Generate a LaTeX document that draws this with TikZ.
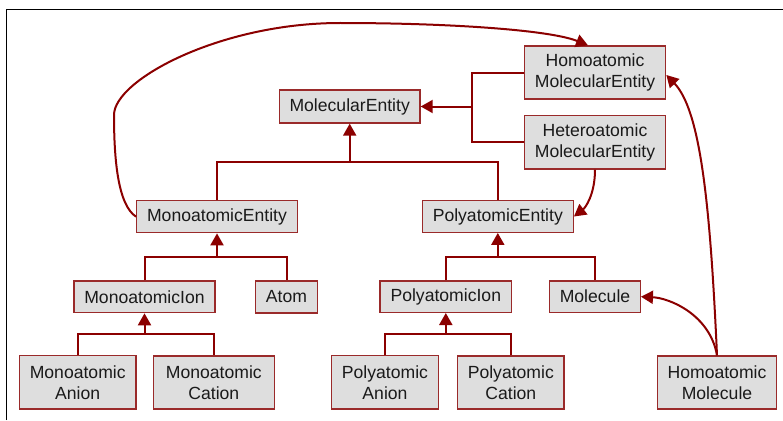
\documentclass[tikz,border=0pt]{standalone}
\usepackage{fontspec}
\setmainfont{Liberation Sans}
\usetikzlibrary{arrows.meta}
\definecolor{edgec}{HTML}{8B0000}
\definecolor{boxc}{HTML}{9A2A2A}
\definecolor{fillc}{HTML}{DEDEDE}
\definecolor{textc}{HTML}{1A1A1A}
\begin{document}
\begin{tikzpicture}[x=1pt,y=-1pt,
  box/.style={draw=boxc, line width=1.3pt, fill=fillc, text=textc, inner sep=0pt, align=center, font=\fontsize{17.6}{21}\selectfont},
  edge/.style={draw=edgec, line width=2pt},
  arr/.style={-{Triangle[width=13pt,length=12pt]}}]
\useasboundingbox (0,0) rectangle (783,420);
\draw[line width=1.3pt] (6.5,420) -- (6.5,9.3) -- (783,9.3);

\node[box, minimum width=140.7pt, minimum height=33pt] (ME) at (349.7,106.5) {MolecularEntity};
\node[box, minimum width=141.4pt, minimum height=53pt] (HomoME) at (595,72.5) {Homoatomic\\MolecularEntity};
\node[box, minimum width=141.4pt, minimum height=53.3pt] (HeteroME) at (595,142.3) {Heteroatomic\\MolecularEntity};
\node[box, minimum width=151pt, minimum height=31.6pt] (PolyEnt) at (497.8,216.5) {PolyatomicEntity};
\node[box, minimum width=160.6pt, minimum height=32pt] (MonoEnt) at (217,216.7) {MonoatomicEntity};
\node[box, minimum width=141pt, minimum height=31.7pt] (MonoIon) at (144.5,296.8) {MonoatomicIon};
\node[box, minimum width=61.6pt, minimum height=32pt] (Atom) at (286.5,297) {Atom};
\node[box, minimum width=116.7pt, minimum height=53.3pt] (MonoAnion) at (77.7,382.3) {Monoatomic\\Anion};
\node[box, minimum width=121pt, minimum height=53pt] (MonoCation) at (213.8,382.5) {Monoatomic\\Cation};
\node[box, minimum width=131.7pt, minimum height=31.3pt] (PolyIon) at (445.8,296.7) {PolyatomicIon};
\node[box, minimum width=90.6pt, minimum height=31.3pt] (Molecule) at (595,296.7) {Molecule};
\node[box, minimum width=106.6pt, minimum height=53.3pt] (PolyAnion) at (385,382.3) {Polyatomic\\Anion};
\node[box, minimum width=106.3pt, minimum height=53pt] (PolyCation) at (510.8,382.5) {Polyatomic\\Cation};
\node[box, minimum width=118.6pt, minimum height=53pt] (HomoMol) at (717,382.5) {Homoatomic\\Molecule};

\coordinate (j1) at (349.7,162);
\coordinate (j2) at (472.3,106.5);
\coordinate (j3) at (217,257.3);
\coordinate (j4) at (144.5,334);
\coordinate (j5) at (497.8,256.7);
\coordinate (j6) at (445.8,334.3);

% tree connectors
\draw[edge] (MonoEnt.north) |- (j1) -| (PolyEnt.north);
\draw[edge,arr] (j1) -- (ME.south);
\draw[edge] (HomoME.west) -| (j2) |- (HeteroME.west);
\draw[edge,arr] (j2) -- (ME.east);
\draw[edge] (MonoIon.north) |- (j3) -| (Atom.north);
\draw[edge,arr] (j3) -- (MonoEnt.south);
\draw[edge] (MonoAnion.north) |- (j4) -| (MonoCation.north);
\draw[edge,arr] (j4) -- (MonoIon.south);
\draw[edge] (PolyIon.north) |- (j5) -| (Molecule.north);
\draw[edge,arr] (j5) -- (PolyEnt.south);
\draw[edge] (PolyAnion.north) |- (j6) -| (PolyCation.north);
\draw[edge,arr] (j6) -- (PolyIon.south);

% curved connectors
\draw[edge,arr] (HeteroME.south) .. controls (595,195) and (585,208) .. (PolyEnt.east);
\draw[edge,arr] (HomoMol.north) .. controls (710,315) and (670,298) .. (Molecule.east);
\draw[edge,arr] (HomoMol.north) .. controls (710,200) and (700,110) .. ([yshift=-2.5pt]HomoME.east);
\draw[edge,arr] (MonoEnt.west) .. controls (118,205) and (114,160) .. (114,115)
  .. controls (114,80) and (220,23) .. (340,23)
  .. controls (450,23) and (550,30) .. ([xshift=-7pt]HomoME.north);
\end{tikzpicture}
\end{document}
